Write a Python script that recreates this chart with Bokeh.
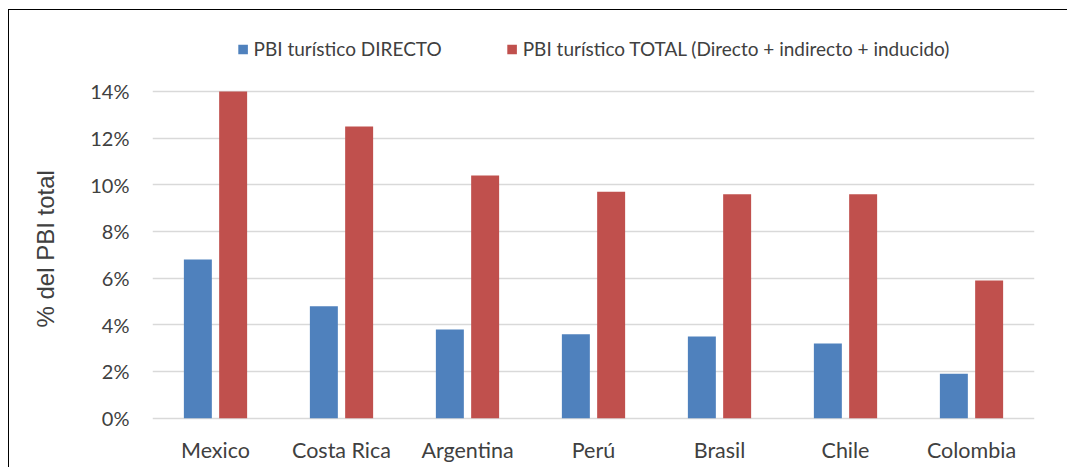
from bokeh.plotting import figure
from bokeh.models import (FactorRange, Range1d, FixedTicker, PrintfTickFormatter,
                          Legend, LegendItem, ColumnDataSource, Title)
from bokeh.transform import dodge
from bokeh.embed import file_html
from bokeh.resources import INLINE

countries = ["Mexico", "Costa Rica", "Argentina", "Perú", "Brasil", "Chile", "Colombia"]
directo = [6.8, 4.8, 3.8, 3.6, 3.5, 3.2, 1.9]
total = [14.0, 12.5, 10.4, 9.7, 9.6, 9.6, 5.9]
y_ticks = [0, 2, 4, 6, 8, 10, 12, 14]
legend_labels = ["PBI turístico DIRECTO",
                 "PBI turístico TOTAL (Directo + indirecto + inducido)"]
y_label = "% del PBI total"

FONT = "Lato"
TXT = "#404040"

src = ColumnDataSource(dict(country=countries, directo=directo, total=total))

p = figure(x_range=FactorRange(factors=countries, range_padding=0),
           y_range=Range1d(-0.1, 16.74),
           width=1067, height=467, output_backend="svg", toolbar_location=None,
           min_border_left=152, min_border_right=33, min_border_bottom=47,
           min_border_top=27)
p.border_fill_alpha = 0
p.background_fill_alpha = 0
p.styles = {
    "background": ("linear-gradient(#000, #000) 8px 9px / 100% 1px no-repeat, "
                   "linear-gradient(#000, #000) 8px 9px / 1px 100% no-repeat, #fff"),
}

r1 = p.vbar(x=dodge("country", -0.14, range=p.x_range), top="directo", width=0.222,
            source=src, fill_color="#4F81BD", line_color=None)
r2 = p.vbar(x=dodge("country", 0.14, range=p.x_range), top="total", width=0.222,
            source=src, fill_color="#C0504D", line_color=None)

legend = Legend(items=[LegendItem(label=legend_labels[0], renderers=[r1]),
                       LegendItem(label=legend_labels[1], renderers=[r2])],
                orientation="horizontal", location="top_center",
                border_line_color=None, background_fill_alpha=0,
                glyph_width=12, glyph_height=12, label_standoff=5, spacing=64,
                padding=0, margin=10,
                label_text_font=FONT, label_text_font_size="19px",
                label_text_color=TXT)
p.add_layout(legend, "center")

ytitle = Title(text=y_label, align="left", offset=93, vertical_align="middle",
               standoff=56, text_font="Liberation Sans", text_font_size="24px",
               text_font_style="normal", text_color=TXT)
p.add_layout(ytitle, "left")

p.outline_line_color = None
p.xgrid.grid_line_color = None
p.ygrid.grid_line_color = "#D9D9D9"
p.ygrid.grid_line_width = 1.5

p.yaxis.ticker = FixedTicker(ticks=y_ticks)
p.yaxis.formatter = PrintfTickFormatter(format="%d%%")
p.yaxis.major_label_standoff = 17

for ax in (p.xaxis, p.yaxis):
    ax.axis_line_color = None
    ax.major_tick_line_color = None
    ax.minor_tick_line_color = None
    ax.major_label_text_font = FONT
    ax.major_label_text_color = TXT
p.yaxis.major_label_text_font_size = "20px"
p.xaxis.major_label_text_font_size = "21.5px"
p.xaxis.major_label_standoff = 10

open("out.html", "w").write(file_html(p, INLINE))
